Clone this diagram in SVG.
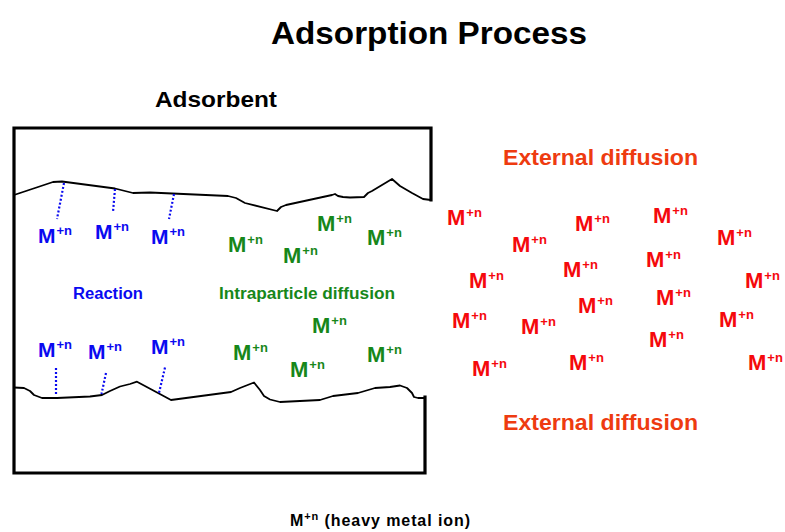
<svg xmlns="http://www.w3.org/2000/svg" width="785" height="532" viewBox="0 0 785 532">
<style>
text{font-family:"Liberation Sans",Arial,sans-serif;font-weight:bold}
.title{font-size:32px;fill:#000}
.lbl{font-size:22px;fill:#000}
.ext{font-size:22px;fill:#EE3B10}
.blue{fill:#0A0AF0;font-size:21px}
.green{fill:#17871A;font-size:22px}
.red{fill:#F5090C;font-size:22px}
.sup{font-size:13px}
.small{font-size:16px}
.box{fill:none;stroke:#000;stroke-width:3.2;stroke-linecap:square}
.surf{fill:none;stroke:#000;stroke-width:1.8;stroke-linejoin:round}
.dot{stroke:#0A0AF0;stroke-width:2.2;stroke-dasharray:2 2;fill:none}
.note{font-size:16px;fill:#000}
</style>
<rect width="785" height="532" fill="#fff"/>
<text class="title" x="271" y="44" textLength="316" lengthAdjust="spacingAndGlyphs">Adsorption Process</text>
<text class="lbl" x="155" y="107" textLength="122" lengthAdjust="spacingAndGlyphs">Adsorbent</text>

<g id="adsorbent">
<path class="box" d="M431,200 V128 H14 V473 H425 V397"/>
<path class="surf" d="M14,195 L53,182 L62,181.5 L115,188.5 L133,193 L150,192.5 L228,196 L236,198 L245,203 L277,211 L281,207 L286,205 L332,195 L335,194 L338,196 L343,197 L350,197.5 L364,197 L368,193 L372,191 L392,179 L400,186 L412,193 L423,199 L431,200"/>
<path class="surf" d="M14,387.5 L24,388 L30,391 L34,395 L42,398 L57,398 L90,396.5 L102,395 L110,391 L120,386.5 L130,384 L137,381.7 L158,393 L171,400 L231,392 L240,388 L254,382.5 L260,390 L264,396 L270,399.5 L280,402 L320,400 L333,396 L358,393 L375,388 L390,387 L400,385.5 L407,388 L412,393 L414,397 L418,398 L425,398"/>
</g>

<g id="connectors">
<line class="dot" x1="64" y1="183" x2="57" y2="219"/>
<line class="dot" x1="115" y1="189" x2="113" y2="212"/>
<line class="dot" x1="174" y1="194" x2="169" y2="219"/>
<line class="dot" x1="56" y1="368" x2="56" y2="396"/>
<line class="dot" x1="106" y1="373" x2="101.5" y2="394"/>
<line class="dot" x1="165" y1="367.5" x2="159" y2="393"/>
</g>

<g id="reaction">
<text class="blue small" x="73" y="299" textLength="70" lengthAdjust="spacingAndGlyphs">Reaction</text>
<text class="blue" x="38" y="243">M<tspan class="sup" dx="1" dy="-8">+n</tspan></text>
<text class="blue" x="95" y="239">M<tspan class="sup" dx="1" dy="-8">+n</tspan></text>
<text class="blue" x="151" y="244">M<tspan class="sup" dx="1" dy="-8">+n</tspan></text>
<text class="blue" x="38" y="357">M<tspan class="sup" dx="1" dy="-8">+n</tspan></text>
<text class="blue" x="88" y="359">M<tspan class="sup" dx="1" dy="-8">+n</tspan></text>
<text class="blue" x="151" y="354">M<tspan class="sup" dx="1" dy="-8">+n</tspan></text>
</g>

<g id="intraparticle">
<text class="green small" x="219" y="299" textLength="176" lengthAdjust="spacingAndGlyphs">Intraparticle diffusion</text>
<text class="green" x="228" y="252">M<tspan class="sup" dx="1" dy="-8">+n</tspan></text>
<text class="green" x="317" y="231">M<tspan class="sup" dx="1" dy="-8">+n</tspan></text>
<text class="green" x="283" y="263">M<tspan class="sup" dx="1" dy="-8">+n</tspan></text>
<text class="green" x="367" y="245">M<tspan class="sup" dx="1" dy="-8">+n</tspan></text>
<text class="green" x="312" y="333">M<tspan class="sup" dx="1" dy="-8">+n</tspan></text>
<text class="green" x="233" y="360">M<tspan class="sup" dx="1" dy="-8">+n</tspan></text>
<text class="green" x="367" y="362">M<tspan class="sup" dx="1" dy="-8">+n</tspan></text>
<text class="green" x="290" y="377">M<tspan class="sup" dx="1" dy="-8">+n</tspan></text>
</g>

<g id="external">
<text class="ext" x="503" y="165" textLength="195" lengthAdjust="spacingAndGlyphs">External diffusion</text>
<text class="ext" x="503" y="430" textLength="195" lengthAdjust="spacingAndGlyphs">External diffusion</text>
<text class="red" x="447" y="225">M<tspan class="sup" dx="1" dy="-8">+n</tspan></text>
<text class="red" x="575" y="231">M<tspan class="sup" dx="1" dy="-8">+n</tspan></text>
<text class="red" x="653" y="223">M<tspan class="sup" dx="1" dy="-8">+n</tspan></text>
<text class="red" x="512" y="252">M<tspan class="sup" dx="1" dy="-8">+n</tspan></text>
<text class="red" x="717" y="245">M<tspan class="sup" dx="1" dy="-8">+n</tspan></text>
<text class="red" x="646" y="267">M<tspan class="sup" dx="1" dy="-8">+n</tspan></text>
<text class="red" x="563" y="277">M<tspan class="sup" dx="1" dy="-8">+n</tspan></text>
<text class="red" x="469" y="288">M<tspan class="sup" dx="1" dy="-8">+n</tspan></text>
<text class="red" x="745" y="288">M<tspan class="sup" dx="1" dy="-8">+n</tspan></text>
<text class="red" x="656" y="305">M<tspan class="sup" dx="1" dy="-8">+n</tspan></text>
<text class="red" x="578" y="313">M<tspan class="sup" dx="1" dy="-8">+n</tspan></text>
<text class="red" x="452" y="328">M<tspan class="sup" dx="1" dy="-8">+n</tspan></text>
<text class="red" x="719" y="327">M<tspan class="sup" dx="1" dy="-8">+n</tspan></text>
<text class="red" x="521" y="334">M<tspan class="sup" dx="1" dy="-8">+n</tspan></text>
<text class="red" x="649" y="347">M<tspan class="sup" dx="1" dy="-8">+n</tspan></text>
<text class="red" x="569" y="370">M<tspan class="sup" dx="1" dy="-8">+n</tspan></text>
<text class="red" x="472" y="376">M<tspan class="sup" dx="1" dy="-8">+n</tspan></text>
<text class="red" x="748" y="370">M<tspan class="sup" dx="1" dy="-8">+n</tspan></text>
</g>

<g id="legend">
<text class="note" x="290" y="526" textLength="180">M<tspan font-size="11px" dy="-6">+n</tspan><tspan dy="6"> (heavy metal ion)</tspan></text>
</g>
</svg>
